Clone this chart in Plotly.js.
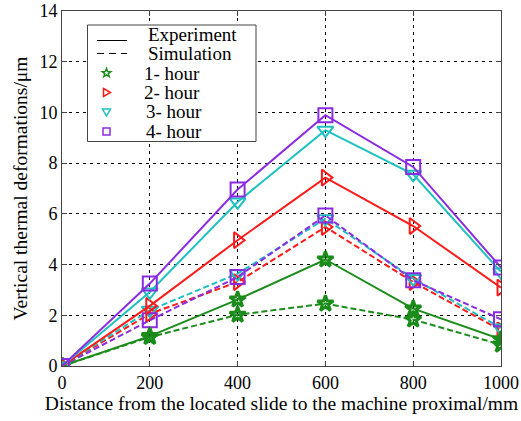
<!DOCTYPE html>
<html><head><meta charset="utf-8">
<script src="https://cdn.plot.ly/plotly-3.0.1.min.js"></script>
<style>html,body{margin:0;padding:0;background:#fff}#chart{width:521px;height:421px}</style>
</head><body><div id="chart"></div>
<script>
const distance = [0, 200, 400, 600, 800, 1000];
const exp1h = [0, 1.18, 2.62, 4.20, 2.26, 1.05];
const sim1h = [0, 1.14, 2.02, 2.46, 1.83, 0.84];
const exp2h = [0, 2.37, 4.96, 7.43, 5.52, 3.09];
const sim2h = [0, 2.06, 3.31, 5.48, 3.31, 1.41];
const exp3h = [0, 2.92, 6.47, 9.30, 7.56, 3.71];
const sim3h = [0, 2.20, 3.64, 5.81, 3.45, 1.50];
const exp4h = [0, 3.25, 6.96, 9.89, 7.85, 3.88];
const sim4h = [0, 1.80, 3.51, 5.94, 3.38, 1.84];
const hourLabels = ['1- hour', '2- hour', '3- hour', '4- hour'];
const typeLabels = ['Experiment', 'Simulation'];
const xTickVals = [0, 200, 400, 600, 800, 1000];

const colors = ['#1a8c1a', '#ff1a1a', '#1fc0c0', '#8a2be2'];
const symbols = ['star-open', 'triangle-right-open', 'triangle-down-open', 'square-open'];
const sizes = [12, 14, 14, 14];
const expData = [exp1h, exp2h, exp3h, exp4h];
const simData = [sim1h, sim2h, sim3h, sim4h];

const FAM = 'Liberation Serif, Times New Roman, serif';
const W = 521, H = 421, ML = 62, MR = 20, MT = 11, MB = 55;
const PW = W - ML - MR, PH = H - MT - MB;
const px = v => (v - ML) / PW;
const py = v => (H - MB - v) / PH;

const traces = [];
for (let i = 0; i < 4; i++) {
  traces.push({x: distance, y: simData[i], mode: 'lines+markers', showlegend: false,
    line: {color: colors[i], width: 2, dash: '6px,3px'},
    marker: {symbol: symbols[i], size: sizes[i], color: colors[i], line: {width: i === 0 ? 3 : 2, color: colors[i]}}});
}
for (let i = 0; i < 4; i++) {
  traces.push({x: distance, y: expData[i], mode: 'lines+markers', showlegend: false,
    line: {color: colors[i], width: 2},
    marker: {symbol: symbols[i], size: sizes[i], color: colors[i], line: {width: i === 0 ? 3 : 2, color: colors[i]}}});
}

// manual legend (layout positions in pixels)
const legRowsY = [34, 53.5, 73, 92.5, 112, 131.5];
const legTextX = [147, 147, 143, 143, 145, 145];
const legMarkerX = 106.5;
const pathOf = pts => 'M ' + pts.map(p => px(p[0]) + ',' + py(p[1])).join(' L ') + ' Z';
function glyph(kind, cx, cy) {
  const pts = [];
  if (kind === 0) {
    for (let k = 0; k < 10; k++) {
      const r = k % 2 === 0 ? 4.5 : 1.9;
      const a = -Math.PI / 2 + k * Math.PI / 5;
      pts.push([cx + r * Math.cos(a), cy + r * Math.sin(a)]);
    }
  } else if (kind === 1) {
    pts.push([cx - 3, cy - 4], [cx + 4, cy], [cx - 3, cy + 4]);
  } else if (kind === 2) {
    pts.push([cx - 4, cy - 3], [cx + 4, cy - 3], [cx, cy + 4]);
  } else {
    pts.push([cx - 3.5, cy - 3.5], [cx + 3.5, cy - 3.5], [cx + 3.5, cy + 3.5], [cx - 3.5, cy + 3.5]);
  }
  return pathOf(pts);
}
const legLabels = typeLabels.concat(hourLabels);
const annotations = legLabels.map((t, i) => ({
  xref: 'paper', yref: 'paper', x: px(legTextX[i]), y: py(legRowsY[i]),
  xanchor: 'left', yanchor: 'middle', text: t, showarrow: false, borderpad: 0,
  font: {family: FAM, size: 19, color: '#000'}
}));
const shapes = [
  {type: 'rect', xref: 'paper', yref: 'paper', x0: px(87.5), x1: px(256), y0: py(141.5), y1: py(25),
    line: {color: '#444', width: 1}, fillcolor: '#fff', layer: 'above'},
  {type: 'line', xref: 'paper', yref: 'paper', x0: px(97), x1: px(127), y0: py(40.5), y1: py(40.5),
    line: {color: '#000', width: 1}, layer: 'above'},
  {type: 'line', xref: 'paper', yref: 'paper', x0: px(97), x1: px(127), y0: py(53.5), y1: py(53.5),
    line: {color: '#000', width: 1, dash: '7px,5px'}, layer: 'above'}
];
for (let i = 0; i < 4; i++) {
  shapes.push({type: 'path', xref: 'paper', yref: 'paper', path: glyph(i, legMarkerX, legRowsY[i + 2]),
    line: {color: colors[i], width: 1.5}, fillcolor: 'rgba(0,0,0,0)', layer: 'above'});
}

const tickFont = {family: FAM, size: 18, color: '#000'};
const titleFont = {family: FAM, size: 19.5, color: '#000'};
const layout = {
  width: W, height: H,
  margin: {l: ML, r: MR, t: MT, b: MB},
  paper_bgcolor: '#fff', plot_bgcolor: '#fff',
  font: {family: FAM, size: 18, color: '#000'},
  showlegend: false,
  annotations: annotations,
  shapes: shapes,
  xaxis: {range: [0, 1000], tickvals: xTickVals, ticks: 'inside', ticklen: 5, tickcolor: '#444',
    showline: true, linecolor: '#444', linewidth: 1, mirror: 'ticks',
    showgrid: true, gridcolor: '#000', gridwidth: 1, griddash: '3px,4px', zeroline: false,
    tickfont: tickFont,
    title: {text: 'Distance from the located slide to the machine proximal/mm', font: titleFont, standoff: 4}},
  yaxis: {range: [0, 14], dtick: 2, ticks: 'inside', ticklen: 5, tickcolor: '#444',
    showline: true, linecolor: '#444', linewidth: 1, mirror: 'ticks',
    showgrid: true, gridcolor: '#000', gridwidth: 1, griddash: '3px,4px', zeroline: false,
    tickfont: tickFont,
    title: {text: 'Vertical thermal deformations/μm', font: titleFont, standoff: 6}}
};
Plotly.newPlot('chart', traces, layout, {displayModeBar: false, staticPlot: true});
</script>
</body></html>
